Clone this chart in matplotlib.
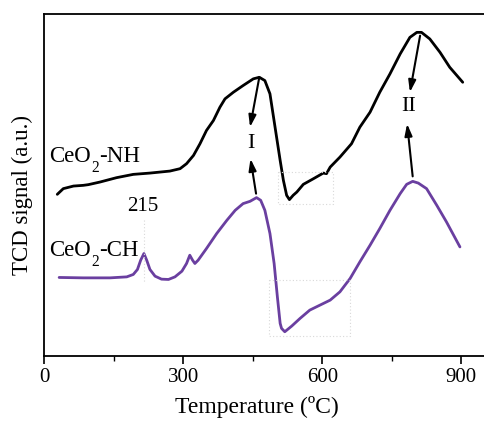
import matplotlib
matplotlib.use("Agg")
import matplotlib.pyplot as plt
from matplotlib.ticker import MultipleLocator
from matplotlib.transforms import offset_copy

plt.rcParams['font.family'] = ['Liberation Serif', 'DejaVu Serif']

# CeO2-NH (black)
nh_T = [28, 41, 63, 84, 95, 120, 156, 192, 228, 271, 293, 307, 322, 336, 350, 365, 379, 390,
        408, 429, 451, 464, 476, 487, 498, 509, 516, 523, 529, 537, 545, 559, 581, 602, 609,
        617, 638, 663, 681, 703, 724, 746, 768, 789, 804, 814, 832, 854, 875, 903]
nh_S = [162, 167.7, 170.3, 171, 171.7, 174.3, 178.7, 182, 183.3, 185.3, 187.7, 192.7, 201,
        212.7, 226, 236, 249.3, 257.7, 264.3, 271, 277.7, 279.3, 276, 262.7, 229.3, 196, 176,
        161, 156.7, 161, 164.3, 172, 177.7, 183.3, 182.7, 189.3, 199.3, 212.7, 229.3, 244.3,
        264.3, 282.7, 302.7, 319.3, 324.3, 324.3, 317.7, 304.3, 289.3, 274.3]

# CeO2-CH (purple)
ch_T = [32, 84, 142, 178, 192, 201, 208, 215, 221, 228, 239, 253, 268, 282, 297, 307, 314,
        320, 325, 332, 350, 372, 394, 412, 429, 444, 458, 467, 476, 487, 496, 503, 509, 512,
        519, 534, 552, 573, 595, 617, 638, 660, 681, 703, 724, 746, 768, 782, 795, 807, 825,
        847, 868, 897]
ch_S = [78.7, 78.3, 78.3, 79.3, 81.7, 86.7, 96, 102.7, 96, 86.7, 80, 77, 76.7, 79.3, 85,
        92.7, 101, 96, 92.7, 96, 107.7, 122.7, 136, 146, 152.7, 155, 158.7, 156, 146, 122.7,
        92.7, 59.3, 32.7, 27.7, 24.3, 30, 37.7, 46, 51, 56, 64.3, 77.7, 94.3, 111, 127.7, 146,
        162.7, 172, 175, 173.3, 167.7, 151, 134.3, 109.3]

x_ticks = [0, 300, 600, 900]

fig = plt.figure(figsize=(4.84, 4.22), dpi=100)
ax = fig.add_axes([44.3 / 484, (422 - 356) / 422, (484.5 - 44.3) / 484, (356 - 14) / 422])

ax.plot(nh_T, nh_S, color='black', lw=2.0, solid_joinstyle='round', solid_capstyle='round')
ax.plot(ch_T, ch_S, color='#6a3fa0', lw=2.0, solid_joinstyle='round', solid_capstyle='round')

# faint dotted guide boxes
dot = dict(color='#d8d8d8', lw=0.8, ls=(0, (1, 2)))
ax.plot([505, 623, 623, 505, 505], [184.3, 184.3, 152.7, 152.7, 184.3], **dot)
ax.plot([485, 659, 659, 485, 485], [76, 76, 20, 20, 76], **dot)
ax.plot([215, 215], [136, 72.7], **dot)

arrow = dict(arrowstyle='-|>,head_length=0.7,head_width=0.22', color='black', lw=1.5,
             shrinkA=0, shrinkB=0)
ax.annotate('', xy=(444, 229.3), xytext=(464, 279.3), arrowprops=arrow)
ax.annotate('', xy=(445, 197.7), xytext=(457, 162.7), arrowprops=arrow)
ax.annotate('', xy=(789, 264.3), xytext=(811, 321), arrowprops=arrow)
ax.annotate('', xy=(783, 232.7), xytext=(795, 180), arrowprops=arrow)

ax.text(446, 212.7, 'I', fontsize=16, ha='center', va='center')
ax.text(786, 250, 'II', fontsize=16, ha='center', va='center')
ax.text(213, 149.5, '215', fontsize=15, ha='center', va='center')

fig.canvas.draw()
renderer = fig.canvas.get_renderer()


def chem_label(x, y, main, sub, rest, size=16.5):
    t1 = ax.text(x, y, main, fontsize=size, ha='left', va='baseline')
    w1 = t1.get_window_extent(renderer).width * 72 / fig.dpi
    tr2 = offset_copy(ax.transData, fig=fig, x=w1, y=-size * 0.42, units='points')
    t2 = ax.text(x, y, sub, fontsize=size * 0.68, ha='left', va='baseline', transform=tr2)
    w2 = t2.get_window_extent(renderer).width * 72 / fig.dpi
    tr3 = offset_copy(ax.transData, fig=fig, x=w1 + w2, y=0, units='points')
    ax.text(x, y, rest, fontsize=size, ha='left', va='baseline', transform=tr3)


chem_label(11, 194.3, 'CeO', '2', '-NH')
chem_label(11, 100, 'CeO', '2', '-CH')

ax.set_xlim(0, 950)
ax.set_ylim(0, 342.7)
ax.set_xticks(x_ticks)
ax.set_xticklabels([str(t) for t in x_ticks], fontsize=15)
ax.xaxis.set_minor_locator(MultipleLocator(150))
ax.tick_params(axis='x', which='major', direction='out', length=6, width=1.2, pad=3)
ax.tick_params(axis='x', which='minor', direction='out', length=3.5, width=1.0)
ax.set_yticks([])
for s in ax.spines.values():
    s.set_linewidth(1.3)

ax.set_xlabel('Temperature (ºC)', fontsize=17)
ax.set_ylabel('TCD signal (a.u.)', fontsize=16.5)
ax.xaxis.set_label_coords(0.484, -0.118)
ax.yaxis.set_label_coords(-0.025, 0.47)

fig.savefig('out.png', dpi=100)
